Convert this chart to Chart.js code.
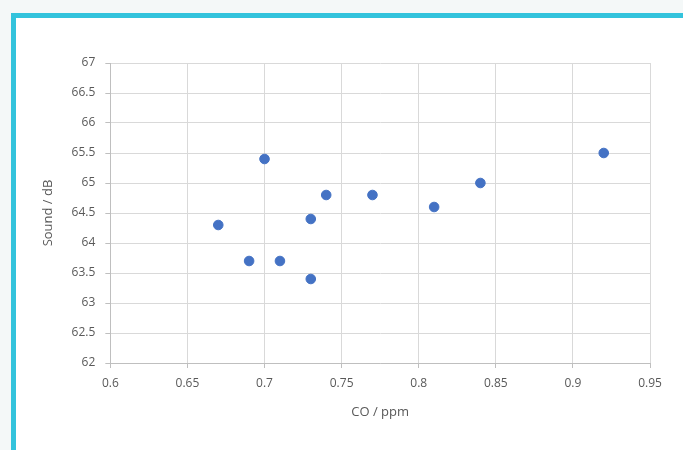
<!DOCTYPE html>
<html>
<head>
<meta charset="utf-8">
<script src="https://cdn.jsdelivr.net/npm/chart.js@4/dist/chart.umd.min.js"></script>
<style>
  html, body { margin: 0; padding: 0; }
  body { width: 683px; height: 450px; background: #f4f8f8; position: relative; overflow: hidden; }
  #frame { position: absolute; left: 11px; top: 13px; right: 0; bottom: 0; background: #fff;
           border-left: 5px solid #33c3dc; border-top: 5px solid #33c3dc; }
  #chart { position: absolute; left: 0; top: 0; }
</style>
</head>
<body>
<div id="frame"></div>
<canvas id="chart" width="683" height="450"></canvas>
<script>
// CO concentration vs sound level readings
const coValues = [0.67, 0.69, 0.70, 0.71, 0.73, 0.73, 0.74, 0.77, 0.81, 0.84, 0.92];
const soundValues = [64.3, 63.7, 65.4, 63.7, 64.4, 63.4, 64.8, 64.8, 64.6, 65.0, 65.5];

const xTitle = 'CO / ppm';
const yTitle = 'Sound / dB';

const points = coValues.map((x, i) => ({ x: x, y: soundValues[i] }));

const tickFont = { family: 'Open Sans', size: 12 };
const fmt = v => String(Number(v.toFixed(2)));

new Chart(document.getElementById('chart'), {
    type: 'scatter',
    data: {
        datasets: [{
            data: points,
            backgroundColor: '#4472c4',
            borderColor: '#4472c4',
            pointRadius: 4.8,
            pointHoverRadius: 4.8
        }]
    },
    options: {
        responsive: false,
        animation: false,
        devicePixelRatio: 1,
        layout: { padding: { left: 36, top: 63, right: 33, bottom: 26 } },
        plugins: { legend: { display: false }, tooltip: { enabled: false } },
        scales: {
            x: {
                type: 'linear',
                min: 0.6,
                max: 0.95,
                ticks: { stepSize: 0.05, autoSkip: false, maxRotation: 0, color: '#595959', font: tickFont, callback: fmt, padding: 8 },
                grid: { color: '#d9d9d9', tickColor: '#bfbfbf', tickLength: 5 },
                border: { color: '#bfbfbf' },
                title: { display: true, text: xTitle, color: '#595959', font: { family: 'Open Sans', size: 13 }, padding: { top: 6 } }
            },
            y: {
                type: 'linear',
                min: 62,
                max: 67,
                ticks: { stepSize: 0.5, autoSkip: false, color: '#595959', font: tickFont, callback: fmt, padding: 10 },
                grid: { color: '#d9d9d9', tickColor: '#bfbfbf', tickLength: 5 },
                border: { color: '#bfbfbf' },
                title: { display: true, text: yTitle, color: '#595959', font: { family: 'Open Sans', size: 13 }, padding: { bottom: 6 } }
            }
        }
    }
});
</script>
</body>
</html>
